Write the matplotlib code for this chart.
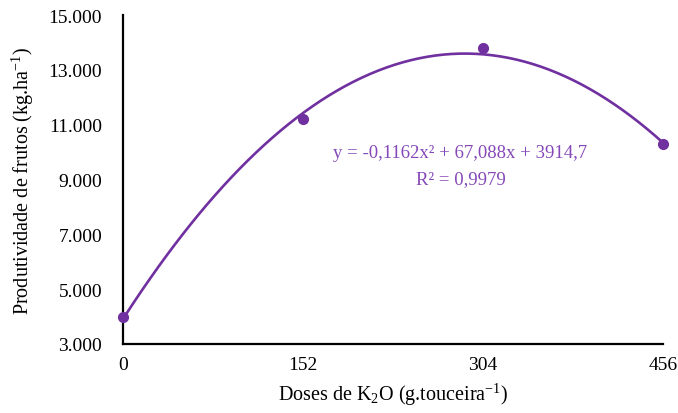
import numpy as np
import matplotlib
matplotlib.use("Agg")
import matplotlib.pyplot as plt
from matplotlib.ticker import FuncFormatter

doses = [0, 152, 304, 456]
produtividade = [4000, 11200, 13800, 10300]
# Polynomial trendline coefficients as printed on the chart
coef = [-0.1162, 67.088, 3914.7]
eq_text = "y = -0,1162x\u00b2 + 67,088x + 3914,7"
r2_text = "R\u00b2 = 0,9979"

plt.rcParams['font.family'] = ['Liberation Serif', 'DejaVu Serif']
plt.rcParams['mathtext.fontset'] = 'custom'
plt.rcParams['mathtext.rm'] = 'Liberation Serif'
plt.rcParams['mathtext.it'] = 'Liberation Serif:italic'

purple = '#7030A0'
text_purple = '#8548B8'

fig = plt.figure(figsize=(6.78, 4.14), dpi=100)
ax = fig.add_axes([0.1814, 0.1667, 0.7965, 0.7943])

xs = np.linspace(0, 456, 200)
ax.plot(xs, np.polyval(coef, xs), color=purple, lw=1.9, zorder=2, clip_on=False)
ax.plot(doses, produtividade, 'o', color=purple, ms=7, zorder=3, clip_on=False)

ax.set_xlim(0, 456)
ax.set_ylim(3000, 15000)
ax.set_xticks(doses)
ax.set_yticks(range(3000, 15001, 2000))
ax.yaxis.set_major_formatter(FuncFormatter(lambda v, p: "{:,.3f}".format(v / 1000).replace(',', '.')))
ax.tick_params(length=0, labelsize=14)
ax.tick_params(axis='y', pad=15)
ax.tick_params(axis='x', pad=9)
for s in ['top', 'right']:
    ax.spines[s].set_visible(False)
for s in ['left', 'bottom']:
    ax.spines[s].set_linewidth(1.6)

ax.set_xlabel(r"Doses de K$_2$O (g.touceira$^{\mathrm{-1}}$)", fontsize=14.5, labelpad=5)
ax.set_ylabel(r"Produtividade de frutos (kg.ha$^{\mathrm{-1}}$)", fontsize=14.5, labelpad=9)

ax.text(285, 10000, eq_text, color=text_purple, fontsize=13.5, ha='center', va='center')
ax.text(285, 9020, r2_text, color=text_purple, fontsize=13.5, ha='center', va='center')

fig.savefig("out.png", dpi=100)
